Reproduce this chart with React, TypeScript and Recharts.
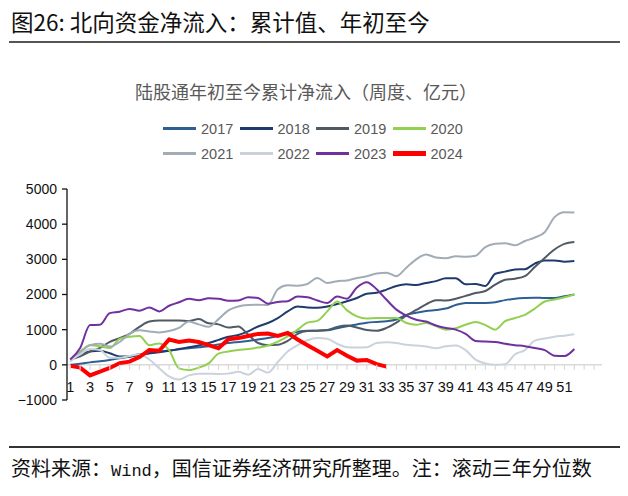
import React from 'react';
import { LineChart, Line, XAxis, YAxis, ReferenceLine } from 'recharts';

const weeks: number[] = Array.from({ length: 52 }, (_, i) => i + 1);
const axisTicks: number[] = Array.from({ length: 54 }, (_, i) => i + 1);
const yTicks: number[] = [-1000, 0, 1000, 2000, 3000, 4000, 5000];

const s2017: number[] = [0, 30, 70, 100, 140, 190, 230, 280, 330, 370, 410, 440, 470, 500, 530, 580, 620, 650, 680, 720, 760, 820, 880, 940, 970, 970, 980, 1040, 1100, 1150, 1200, 1220, 1240, 1290, 1420, 1480, 1530, 1560, 1600, 1700, 1760, 1760, 1760, 1780, 1840, 1880, 1900, 1910, 1900, 1900, 1950, 2000];
const s2018: number[] = [140, 290, 380, 400, 330, 240, 240, 300, 330, 360, 400, 450, 500, 550, 620, 710, 800, 850, 950, 1090, 1190, 1330, 1520, 1660, 1630, 1620, 1660, 1730, 1810, 1900, 2020, 2050, 2140, 2240, 2290, 2270, 2330, 2380, 2460, 2460, 2290, 2300, 2240, 2590, 2650, 2710, 2720, 2880, 2970, 2970, 2930, 2950];
const s2019: number[] = [150, 240, 380, 480, 650, 760, 880, 1080, 1230, 1260, 1260, 1260, 1250, 1300, 1180, 1150, 1060, 1090, 860, 620, 560, 570, 680, 880, 960, 970, 990, 1080, 1120, 1060, 990, 970, 1050, 1200, 1400, 1560, 1720, 1840, 1830, 1880, 1960, 2040, 2100, 2280, 2420, 2450, 2520, 2780, 3040, 3280, 3440, 3490];
const s2020: number[] = [150, 380, 560, 530, 480, 740, 800, 820, 560, 610, 420, -100, -150, -80, 40, 320, 380, 420, 450, 490, 550, 660, 810, 1000, 1200, 1250, 1520, 1800, 1550, 1380, 1320, 1330, 1330, 1330, 1190, 1140, 1190, 1100, 1000, 1040, 1140, 1220, 1130, 1000, 1240, 1330, 1420, 1600, 1800, 1860, 1920, 2000];
const s2021: number[] = [100, 350, 560, 600, 520, 650, 880, 980, 950, 920, 960, 1050, 1230, 1150, 1080, 1300, 1550, 1660, 1700, 1710, 1700, 2150, 2260, 2250, 2300, 2470, 2330, 2380, 2400, 2470, 2520, 2600, 2620, 2520, 2760, 3000, 3140, 3050, 3030, 3090, 3070, 3100, 3350, 3440, 3460, 3400, 3520, 3620, 3770, 4200, 4340, 4330];
const s2022: number[] = [120, 300, 450, 420, 200, 200, 250, 300, 150, -100, -330, -420, -300, -250, -250, -260, -250, -200, -280, -120, -220, 80, 380, 560, 700, 760, 740, 600, 500, 490, 500, 620, 640, 620, 570, 550, 520, 470, 530, 550, 420, 150, 40, 0, 20, 300, 420, 690, 750, 800, 830, 870];
const s2023: number[] = [150, 480, 1130, 1140, 1470, 1510, 1590, 1540, 1630, 1520, 1680, 1780, 1880, 1840, 1890, 1880, 1820, 1830, 1920, 1900, 1740, 1790, 1810, 1940, 1920, 1830, 1760, 1940, 1880, 2200, 2350, 2150, 1850, 1570, 1400, 1280, 1230, 1120, 1050, 1000, 880, 680, 660, 650, 600, 560, 530, 480, 420, 260, 250, 450];
const s2024: number[] = [-30, -80, -300, -190, -90, 50, 90, 220, 420, 400, 720, 650, 690, 650, 560, 470, 730, 760, 820, 880, 890, 820, 910, 720, 560, 400, 240, 420, 260, 120, 140, 20, -50];

const seriesNames: string[] = ['2017', '2018', '2019', '2020', '2021', '2022', '2023', '2024'];
const seriesValues: number[][] = [s2017, s2018, s2019, s2020, s2021, s2022, s2023, s2024];
const seriesColors: string[] = ['#2E5F92', '#1F3B6C', '#505A64', '#92D050', '#A2ACB7', '#CAD3DB', '#7030A0', '#FF0000'];
const seriesWidths: number[] = [2, 2, 2, 2, 2, 2, 2, 4];

const data = weeks.map((w, i) => {
  const row: Record<string, number | undefined> = { week: w };
  seriesNames.forEach((n, k) => {
    row['y' + n] = seriesValues[k][i];
  });
  return row;
});

const W = 628;
const H = 496;
const M = { top: 189, right: 26, bottom: 95, left: 17 };
const X_AXIS_H = 1;
const Y_MIN = -1000;
const Y_MAX = 5000;
const PLOT_H = H - M.top - M.bottom - X_AXIS_H;
const Y0 = M.top + (PLOT_H * (Y_MAX - 0)) / (Y_MAX - Y_MIN);

const NUM_FONT = "'Liberation Sans Narrow', 'Liberation Sans', Arial, sans-serif";
const CJK_FONT = "'Noto Sans CJK SC', 'Noto Sans', sans-serif";

const XTick = (props: any) => {
  const { x, payload } = props;
  const v = Number(payload.value);
  const show = v % 2 === 1 && v <= 51;
  return (
    <g>
      <line x1={x} x2={x} y1={Y0} y2={Y0 + 5} stroke="#D9D9D9" strokeWidth={1.2} />
      {show && (
        <text x={x} y={Y0 + 27} textAnchor="middle" fontSize={14.5} fill="#111" fontFamily={NUM_FONT}>
          {v}
        </text>
      )}
    </g>
  );
};

const LegendBlock = () => (
  <div style={{ position: 'absolute', top: 116, left: 163, display: 'grid', gridTemplateColumns: 'repeat(4, 76.5px)' }}>
    {seriesNames.map((n, k) => (
      <div key={n} style={{ display: 'flex', alignItems: 'center', height: 25 }}>
        <div style={{ width: 33, height: seriesWidths[k] + 0.5, background: seriesColors[k], marginRight: 5 }} />
        <span style={{ fontSize: 14.5, color: '#595959', fontFamily: "'Liberation Sans', Arial, sans-serif" }}>{n}</span>
      </div>
    ))}
  </div>
);

export default function App() {
  return (
    <div style={{ position: 'absolute', left: 0, top: 0, width: W, height: H, background: '#fff', overflow: 'hidden' }}>
      <div style={{ position: 'absolute', left: 11, top: 6, fontSize: 22.5, lineHeight: '30px', color: '#111', fontFamily: CJK_FONT, whiteSpace: 'nowrap' }}>
        图26: 北向资金净流入：累计值、年初至今
      </div>
      <div style={{ position: 'absolute', left: 9, top: 41, width: 611, height: 2, background: '#555' }} />
      <div style={{ position: 'absolute', left: 0, top: 78, width: 612, textAlign: 'center', fontSize: 18, lineHeight: '26px', color: '#595959', fontFamily: CJK_FONT, whiteSpace: 'nowrap' }}>
        陆股通年初至今累计净流入（周度、亿元）
      </div>
      <LegendBlock />
      <div style={{ position: 'absolute', left: 9, top: 446, width: 611, height: 2, background: '#333' }} />
      <div style={{ position: 'absolute', left: 11, top: 455, fontSize: 20, lineHeight: '26px', color: '#111', fontFamily: CJK_FONT, whiteSpace: 'nowrap' }}>
        资料来源：<span style={{ fontFamily: "'Liberation Mono', 'DejaVu Sans Mono', monospace", fontSize: 17 }}>Wind</span>，国信证券经济研究所整理。注：滚动三年分位数
      </div>
      <div style={{ position: 'absolute', left: 0, top: 0 }}>
        <LineChart width={W} height={H} data={data} margin={M}>
          <XAxis
            dataKey="week"
            type="number"
            domain={[0.67, 54.8]}
            ticks={axisTicks}
            interval={0}
            allowDataOverflow
            axisLine={false}
            tickLine={false}
            height={X_AXIS_H}
            tick={XTick}
          />
          <YAxis
            domain={[Y_MIN, Y_MAX]}
            ticks={yTicks}
            interval={0}
            width={50}
            axisLine={{ stroke: '#111', strokeWidth: 1.3 }}
            tickLine={{ stroke: '#111', strokeWidth: 1.3 }}
            tickSize={5}
            tickMargin={5}
            tick={{ fontSize: 14, fill: '#111', fontFamily: "'Liberation Sans', Arial, sans-serif" }}
            tickFormatter={(v: number) => String(v).replace('-', '\u2212')}
          />
          <ReferenceLine y={0} stroke="#D9D9D9" strokeWidth={1.5} />
          {seriesNames.map((n, k) => (
            <Line
              key={n}
              dataKey={'y' + n}
              stroke={seriesColors[k]}
              strokeWidth={seriesWidths[k]}
              type={n === '2024' ? 'linear' : 'monotone'}
              dot={false}
              isAnimationActive={false}
              connectNulls={false}
            />
          ))}
        </LineChart>
      </div>
    </div>
  );
}
